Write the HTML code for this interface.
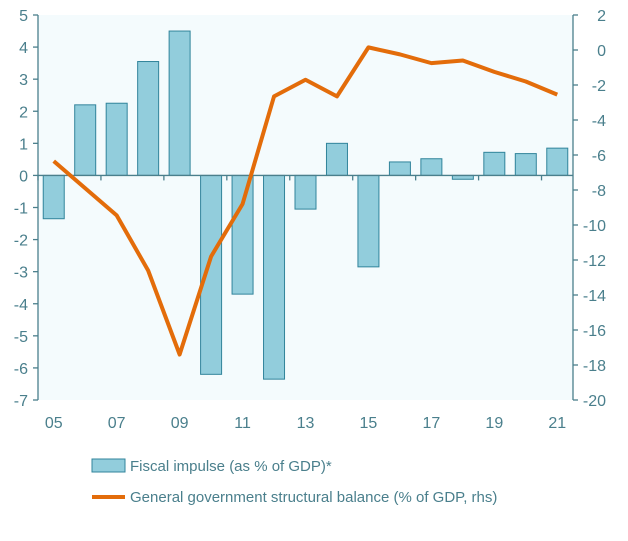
<!DOCTYPE html>
<html><head><meta charset="utf-8"><style>
body{margin:0;background:#fff;font-family:"Liberation Sans",sans-serif}
text{font-family:"Liberation Sans",sans-serif}
</style></head><body>
<svg id="c" width="628" height="536"></svg>
<script>
const years=["05","06","07","08","09","10","11","12","13","14","15","16","17","18","19","20","21"];
const impulse=[-1.35,2.2,2.25,3.55,4.5,-6.2,-3.7,-6.35,-1.05,1.0,-2.85,0.42,0.52,-0.12,0.72,0.68,0.85];
const balance=[-6.35,-7.9,-9.45,-12.6,-17.4,-11.8,-8.8,-2.65,-1.7,-2.65,0.15,-0.25,-0.75,-0.6,-1.25,-1.8,-2.55];
const leftTicks=[5,4,3,2,1,0,-1,-2,-3,-4,-5,-6,-7];
const rightTicks=[2,0,-2,-4,-6,-8,-10,-12,-14,-16,-18,-20];
const xLabels=["05","07","09","11","13","15","17","19","21"];
const L=38,R=573,T=15,B=400,tc="#4a7f8c";
const svg=document.getElementById('c'),NS="http://www.w3.org/2000/svg";
function el(t,a,p){const e=document.createElementNS(NS,t);for(const k in a)e.setAttribute(k,a[k]);(p||svg).appendChild(e);return e;}
const bw=(R-L)/years.length;
const xc=i=>L+bw*(i+0.5);
const yL=v=>T+(5-v)*(B-T)/12;
const yR=v=>T+(2-v)*(B-T)/22;
let bg=el('rect',{x:L,y:T,width:R-L,height:B-T,fill:'#f4fbfd'});

impulse.forEach((v,i)=>{
 const y0=yL(0),y1=yL(v);
 const r=el('rect',{x:xc(i)-10.5,y:Math.min(y0,y1),width:21,height:Math.abs(y1-y0),fill:'#92cddc',stroke:'#31849b','stroke-width':1});
 
 
});
// axes
el('line',{x1:L,y1:T,x2:L,y2:B,stroke:tc,'stroke-width':1.3});
el('line',{x1:R,y1:T,x2:R,y2:B,stroke:tc,'stroke-width':1.3});
el('line',{x1:L,y1:yL(0),x2:R,y2:yL(0),stroke:tc,'stroke-width':1.3});
for(let i=0;i<=years.length;i+=2){const x=L+bw*i;el('line',{x1:x,y1:yL(0),x2:x,y2:yL(0)+5,stroke:tc,'stroke-width':1.3});}
leftTicks.forEach(v=>{
 el('line',{x1:L-5,y1:yL(v),x2:L,y2:yL(v),stroke:tc,'stroke-width':1.3});
 const t=el('text',{x:L-10,y:yL(v)+6,'text-anchor':'end','font-size':16,fill:tc});t.textContent=v;
 
});
rightTicks.forEach(v=>{
 el('line',{x1:R,y1:yR(v),x2:R+5,y2:yR(v),stroke:tc,'stroke-width':1.3});
 const t=el('text',{x:R+33,y:yR(v)+6,'text-anchor':'end','font-size':16,fill:tc});t.textContent=v;
 
});
xLabels.forEach(lab=>{
 const i=years.indexOf(lab);
 const t=el('text',{x:xc(i),y:428,'text-anchor':'middle','font-size':16,fill:tc});t.textContent=lab;
 
});
const pl=el('polyline',{points:balance.map((v,i)=>xc(i)+','+yR(v)).join(' '),fill:'none',stroke:'#e36c0a','stroke-width':4,'stroke-linejoin':'round'});

// legend
const g1=el('g',{});
el('rect',{x:92,y:459,width:33,height:13,fill:'#92cddc',stroke:'#31849b'},g1);
let t1=el('text',{x:130,y:471,'font-size':15,fill:'#4a7f8c'},g1);t1.textContent='Fiscal impulse (as % of GDP)*';
const g2=el('g',{});
el('line',{x1:92,y1:497,x2:125,y2:497,stroke:'#e36c0a','stroke-width':4},g2);
let t2=el('text',{x:130,y:502,'font-size':15,fill:'#4a7f8c'},g2);t2.textContent='General government structural balance (% of GDP, rhs)';
</script>
</body></html>
